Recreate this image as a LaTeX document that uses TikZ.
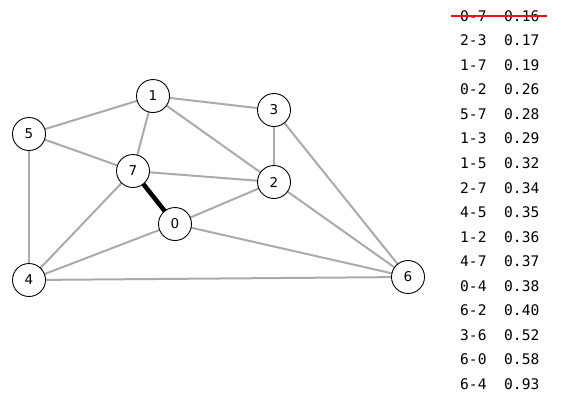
\documentclass[tikz,border=0pt]{standalone}
\usepackage{fontspec}
\setmainfont{DejaVu Sans}
\setmonofont{DejaVu Sans Mono}
\usepackage{tikz}
\usetikzlibrary{positioning,calc}
\usepackage{xcolor}
\definecolor{edgegray}{RGB}{170,170,170}
\definecolor{strikered}{RGB}{230,20,20}
\tikzset{
    vertex/.style={circle, draw=black, fill=white, line width=0.9pt, minimum size=33pt, inner sep=0pt, font=\fontsize{13.5}{13.5}\selectfont},
    edge/.style={edgegray, line width=2pt},
    chosen/.style={black, line width=4.5pt},
    rowtext/.style={anchor=west, inner sep=0pt, font=\fontsize{14.6}{14.6}\ttfamily},
}

\begin{document}
\begin{tikzpicture}[x=1pt, y=-1pt]
    \useasboundingbox (0,0) rectangle (567,408);
    % Vertices
    \foreach \v/\x/\y in {1/153/96, 3/274/110, 5/29/134, 7/133/171,
                          2/274/182, 0/175/224, 4/29/280, 6/408/277} {
        \coordinate (p\v) at (\x,\y);
    }
    % Edges
    \foreach \a/\b in {2/3, 1/7, 0/2, 5/7, 1/3, 1/5, 2/7, 4/5,
                       1/2, 4/7, 0/4, 6/2, 3/6, 6/0, 6/4} {
        \draw[edge] (p\a) -- (p\b);
    }
    \draw[chosen] (p0) -- (p7);
    \foreach \v in {0,...,7} {
        \node[vertex] (n\v) at (p\v) {\v};
    }
    % Sorted edge list
    \foreach \e/\w [count=\i] in {0-7/0.16, 2-3/0.17, 1-7/0.19, 0-2/0.26,
                                  5-7/0.28, 1-3/0.29, 1-5/0.32, 2-7/0.34,
                                  4-5/0.35, 1-2/0.36, 4-7/0.37, 0-4/0.38,
                                  6-2/0.40, 3-6/0.52, 6-0/0.58, 6-4/0.93} {
        \pgfmathsetmacro{\yp}{16+(\i-1)*24.53}
        \node[rowtext] (pair\i) at (460,\yp) {\e};
        \node[rowtext] (wt\i) at (504,\yp) {\w};
    }
    % Discarded edge
    \draw[strikered, line width=2.2pt] ($(pair1.west)+(-9,0)$) -- ($(wt1.east)+(7,0)$);
\end{tikzpicture}
\end{document}
